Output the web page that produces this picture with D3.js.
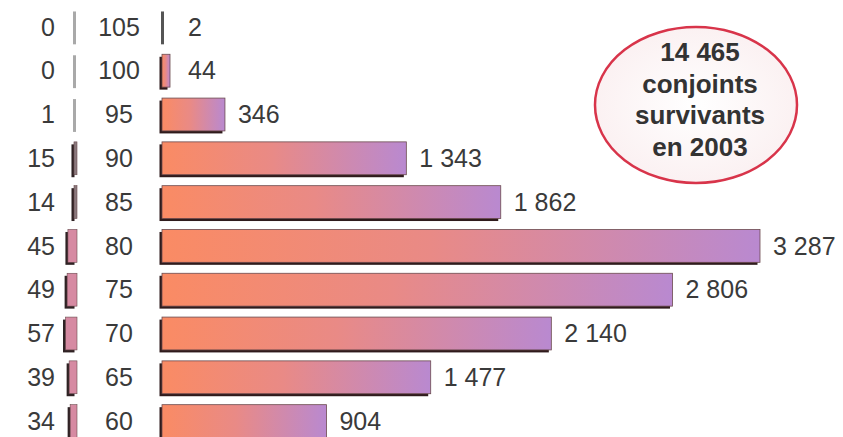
<!DOCTYPE html>
<html>
<head>
<meta charset="utf-8">
<script src="https://cdn.jsdelivr.net/npm/d3@7"></script>
<style>
  html, body { margin: 0; padding: 0; background: #ffffff; }
  svg { display: block; }
</style>
</head>
<body>
<div id="chart"></div>
<script>
// age bands, top to bottom
var ages = ['105', '100', '95', '90', '85', '80', '75', '70', '65', '60'];
// small counts shown on the left
var leftValues = [0, 0, 1, 15, 14, 45, 49, 57, 39, 34];
// main counts shown on the right
var rightValues = [2, 44, 346, 1343, 1862, 3287, 2806, 2140, 1477, 904];
var calloutLines = ['14 465', 'conjoints', 'survivants', 'en 2003'];

var width = 843, height = 437;
var font = '"Liberation Sans", Arial, Helvetica, sans-serif';

var svg = d3.select('#chart').append('svg')
        .attr('width', width)
        .attr('height', height);

var defs = svg.append('defs');
var grad = defs.append('linearGradient')
        .attr('id', 'barGrad')
        .attr('x1', '0%').attr('x2', '100%')
        .attr('y1', '0%').attr('y2', '0%');
grad.append('stop').attr('offset', '0%').attr('stop-color', '#fa8b64');
grad.append('stop').attr('offset', '45%').attr('stop-color', '#e98a86');
grad.append('stop').attr('offset', '100%').attr('stop-color', '#b989d0');

var ellGrad = defs.append('radialGradient').attr('id', 'ellGrad');
ellGrad.append('stop').attr('offset', '0%').attr('stop-color', '#ffffff');
ellGrad.append('stop').attr('offset', '100%').attr('stop-color', '#fbf1f2');

var y = d3.scaleBand()
        .domain(ages)
        .range([5, 443])
        .paddingInner(0.25)
        .paddingOuter(0.125);

var xRight = d3.scaleLinear().domain([0, 3287]).range([162, 760]);
var xLeft = d3.scaleLinear().domain([0, 57]).range([0, 11.5]);
var leftEdge = 77;
var shadow = 2.5;

var rows = ages.map(function(a, i){
    return {age: a, left: leftValues[i], right: rightValues[i]};
});

var fmt = function(v){
    return d3.format(',')(v).replace(/,/g, ' ');
};

// right bars
var rightG = svg.append('g').attr('class', 'right-bars');
rows.forEach(function(d){
    var by = y(d.age), bh = y.bandwidth();
    var x0 = xRight(0), w = Math.max(3, xRight(d.right) - x0);
    if (d.right < 10) {
        rightG.append('rect')
                .attr('x', x0 - 1).attr('y', by + 1)
                .attr('width', 3).attr('height', bh)
                .attr('fill', '#555555');
        return;
    }
    rightG.append('rect')
            .attr('x', x0 - shadow).attr('y', by + shadow)
            .attr('width', w).attr('height', bh)
            .attr('fill', '#2f1b1c');
    rightG.append('rect')
            .attr('x', x0).attr('y', by)
            .attr('width', w).attr('height', bh)
            .attr('fill', 'url(#barGrad)')
            .attr('stroke', '#6b4a4e')
            .attr('stroke-width', 0.8);
});

// left bars, growing to the left
var leftG = svg.append('g').attr('class', 'left-bars');
rows.forEach(function(d){
    var by = y(d.age), bh = y.bandwidth();
    if (d.left < 2) {
        leftG.append('rect')
                .attr('x', leftEdge - 4).attr('y', by + 1)
                .attr('width', 3).attr('height', bh)
                .attr('fill', '#a9a9a9');
        return;
    }
    var w = Math.max(3, xLeft(d.left));
    leftG.append('rect')
            .attr('x', leftEdge - w - shadow).attr('y', by + shadow)
            .attr('width', w).attr('height', bh)
            .attr('fill', '#2f2224');
    leftG.append('rect')
            .attr('x', leftEdge - w).attr('y', by)
            .attr('width', w).attr('height', bh)
            .attr('fill', d.left < 20 ? '#8a7a7e' : '#d68aa2')
            .attr('stroke', '#6b4a4e')
            .attr('stroke-width', 0.6);
});

// labels
var labels = svg.append('g').attr('class', 'labels')
        .style('font-family', font)
        .style('font-size', '25px')
        .attr('fill', '#3a3a3a');

rows.forEach(function(d){
    var cy = y(d.age) + y.bandwidth() / 2 + 2;
    labels.append('text')
            .attr('x', 55).attr('y', cy)
            .attr('text-anchor', 'end')
            .attr('dominant-baseline', 'middle')
            .text(fmt(d.left));
    labels.append('text')
            .attr('x', 119).attr('y', cy)
            .attr('text-anchor', 'middle')
            .attr('dominant-baseline', 'middle')
            .text(d.age);
    labels.append('text')
            .attr('x', Math.max(xRight(d.right) + 13, 188)).attr('y', cy)
            .attr('text-anchor', 'start')
            .attr('dominant-baseline', 'middle')
            .text(fmt(d.right));
});

// callout ellipse
var callout = svg.append('g').attr('class', 'callout');
callout.append('ellipse')
        .attr('cx', 696).attr('cy', 105)
        .attr('rx', 101).attr('ry', 78)
        .attr('fill', 'url(#ellGrad)')
        .attr('stroke', '#d8344a')
        .attr('stroke-width', 2.5);
callout.selectAll('text')
        .data(calloutLines)
        .enter().append('text')
        .attr('x', 700)
        .attr('y', function(d, i){ return 61 + i * 31.5; })
        .attr('text-anchor', 'middle')
        .style('font-family', font)
        .style('font-size', '26px')
        .style('font-weight', 'bold')
        .attr('fill', '#333333')
        .text(function(d){ return d; });
</script>
</body>
</html>
